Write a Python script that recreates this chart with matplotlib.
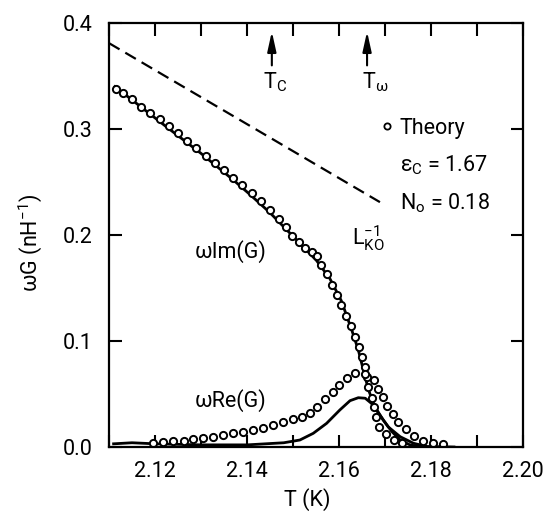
import matplotlib
matplotlib.use("Agg")
import matplotlib.pyplot as plt
from matplotlib.lines import Line2D

plt.rcParams['font.family'] = ['Roboto', 'DejaVu Sans']
plt.rcParams['mathtext.fontset'] = 'custom'
plt.rcParams['mathtext.rm'] = 'Roboto'
plt.rcParams['mathtext.it'] = 'Roboto'
plt.rcParams['mathtext.bf'] = 'Roboto'

# solid curve, omega*Im(G)
im_T = [2.1113, 2.1225, 2.1300, 2.1370, 2.1407, 2.1450, 2.1486, 2.1522, 2.1551,
        2.1580, 2.1605, 2.1628, 2.1642, 2.1653, 2.1664, 2.1678, 2.1696, 2.1715,
        2.1733, 2.1754, 2.1780]
im_val = [0.340, 0.302, 0.277, 0.252, 0.238, 0.221, 0.205, 0.189, 0.176,
          0.159, 0.138, 0.110, 0.0915, 0.0726, 0.054, 0.038, 0.0255, 0.0145,
          0.0066, 0.002, 0.0]

# solid curve, omega*Re(G)
re_T = [2.1110, 2.1150, 2.1200, 2.1300, 2.1400, 2.1480, 2.1515, 2.1544, 2.1573,
        2.1602, 2.1624, 2.1642, 2.1657, 2.1671, 2.1689, 2.1707, 2.1733, 2.1762,
        2.1791, 2.1850]
re_val = [0.003, 0.004, 0.003, 0.002, 0.002, 0.004, 0.0066, 0.0129, 0.0223,
          0.035, 0.0437, 0.0465, 0.046, 0.041, 0.030, 0.019, 0.0097, 0.0035,
          0.0005, 0.0]

# theory points (open circles)
th_im_T = [2.1115, 2.1130, 2.1150, 2.1170, 2.1190, 2.1210, 2.1230, 2.1250, 2.1270,
           2.1290, 2.1310, 2.1330, 2.1350, 2.1370, 2.1390, 2.1410, 2.1430, 2.1450,
           2.1470, 2.1485, 2.1497, 2.1512, 2.1526, 2.1541, 2.1553, 2.1560, 2.1573,
           2.1584, 2.1595, 2.1605, 2.1615, 2.1625, 2.1635, 2.1644, 2.1651, 2.1657,
           2.1660, 2.1664, 2.1671, 2.1675, 2.1680, 2.1688, 2.1702, 2.1720, 2.1738]
th_im_val = [0.338, 0.334, 0.328, 0.321, 0.315, 0.309, 0.303, 0.296, 0.289,
             0.282, 0.275, 0.268, 0.261, 0.254, 0.247, 0.240, 0.232, 0.224,
             0.215, 0.208, 0.199, 0.193, 0.188, 0.184, 0.180, 0.172, 0.163,
             0.153, 0.143, 0.134, 0.124, 0.114, 0.104, 0.0946, 0.085, 0.0758,
             0.0664, 0.0569, 0.046, 0.0374, 0.028, 0.019, 0.0123, 0.0066, 0.0035]

th_re_T = [2.1196, 2.1218, 2.1240, 2.1262, 2.1283, 2.1305, 2.1327, 2.1348, 2.1370,
           2.1392, 2.1414, 2.1435, 2.1457, 2.1478, 2.1499, 2.1519, 2.1537, 2.1553,
           2.1570, 2.1586, 2.1600, 2.1617, 2.1635, 2.1656, 2.1675, 2.1685, 2.1695,
           2.1705, 2.1717, 2.1729, 2.1746, 2.1763, 2.1783, 2.1805, 2.1825]
th_re_val = [0.004, 0.005, 0.0057, 0.006, 0.0073, 0.0082, 0.0097, 0.0113, 0.0129,
             0.0145, 0.016, 0.0182, 0.0205, 0.0240, 0.0265, 0.0285, 0.0324, 0.038,
             0.045, 0.0516, 0.0585, 0.0648, 0.070, 0.069, 0.0632, 0.0544, 0.0469,
             0.0387, 0.0311, 0.0239, 0.017, 0.0104, 0.006, 0.0035, 0.0025]

# dashed line L_K0^-1
lk_T = [2.110, 2.1689]
lk_val = [0.381, 0.231]

Tc = 2.1454
Tw = 2.1661

fig = plt.figure(figsize=(5.47, 5.13), dpi=100)
ax = fig.add_axes([109/547, 1 - 447/513, 414/547, 424/513])

fs = 15.5
ax.plot(im_T, im_val, color='k', lw=2.0)
ax.plot(re_T, re_val, color='k', lw=2.0)
ax.plot(lk_T, lk_val, color='k', lw=1.6, dashes=(5.5, 3))
ax.plot(th_im_T, th_im_val, ls='none', marker='o', ms=5.2, mfc='white', mec='k', mew=1.4)
ax.plot(th_re_T, th_re_val, ls='none', marker='o', ms=5.2, mfc='white', mec='k', mew=1.4)

for t in (Tc, Tw):
    ax.annotate('', xy=(t, 0.392), xytext=(t, 0.360),
                arrowprops=dict(arrowstyle='-|>,head_length=1.0,head_width=0.22',
                                mutation_scale=12, lw=1.5, color='k',
                                shrinkA=0, shrinkB=0))
ax.text(Tc - 0.0019, 0.355, r'T$_\mathrm{C}$', fontsize=fs, va='top', ha='left')
ax.text(Tw - 0.0011, 0.355, r'T$_ω$', fontsize=fs, va='top', ha='left')

ax.text(2.1287, 0.184, 'ωIm(G)', fontsize=fs, va='center', ha='left')
ax.text(2.1287, 0.0443, 'ωRe(G)', fontsize=fs, va='center', ha='left')
ax.text(2.1628, 0.1906, r'L$_\mathrm{KO}^{-1}$', fontsize=fs, va='baseline', ha='left')
ax.text(2.1733, 0.266, r'$ε_\mathrm{C}$ = 1.67', fontsize=fs, va='center', ha='left')
ax.text(2.1733, 0.230, r'N$_\mathrm{o}$ = 0.18', fontsize=fs, va='center', ha='left')

h = Line2D([], [], ls='none', marker='o', ms=4.5, mfc='white', mec='k', mew=1.3)
ax.legend([h], ['Theory'], loc='center left', bbox_to_anchor=(0.66, 0.752),
          frameon=False, fontsize=fs, handlelength=0.4, handletextpad=0.4,
          borderpad=0, borderaxespad=0)

ax.set_xlim(2.11, 2.20)
ax.set_ylim(0.0, 0.4)
ax.set_xticks([2.12, 2.14, 2.16, 2.18, 2.20])
ax.set_xticklabels(['2.12', '2.14', '2.16', '2.18', '2.20'])
ax.set_xticks([2.11, 2.13, 2.15, 2.17, 2.19], minor=True)
ax.set_yticks([0.0, 0.1, 0.2, 0.3, 0.4])
ax.set_yticklabels(['0.0', '0.1', '0.2', '0.3', '0.4'])
ax.tick_params(which='both', direction='in', length=9, width=1.5,
               top=True, right=True, labelsize=fs)
ax.tick_params(axis='x', pad=10)
ax.tick_params(axis='y', pad=12)
for s in ax.spines.values():
    s.set_linewidth(1.6)

ax.text(-0.191, 0.481, r'ωG (nH$^{-1}$)', transform=ax.transAxes, rotation=90,
        fontsize=fs, ha='center', va='center')
ax.text(0.48, -0.125, 'T (K)', transform=ax.transAxes, fontsize=fs,
        ha='center', va='center')

fig.savefig('out.png', dpi=100)
